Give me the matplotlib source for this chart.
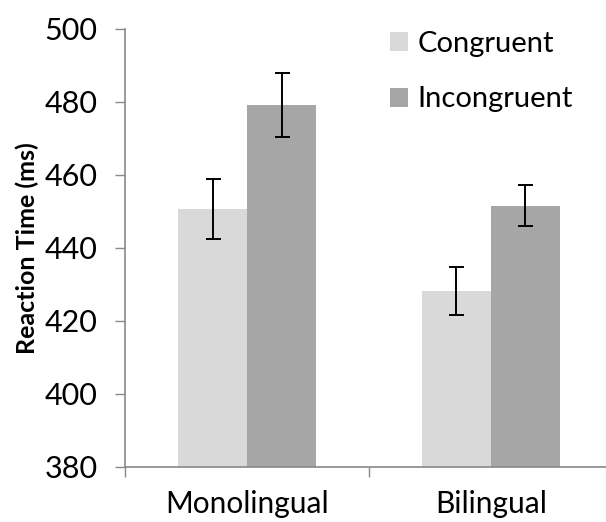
import matplotlib
matplotlib.use('Agg')
import matplotlib.pyplot as plt
import numpy as np

groups = ['Monolingual', 'Bilingual']
congruent = [450.6, 428.2]
congruent_err = [8.2, 6.6]
incongruent = [479.1, 451.6]
incongruent_err = [8.7, 5.6]
yticks = [380, 400, 420, 440, 460, 480, 500]

plt.rcParams['font.family'] = ['Lato', 'DejaVu Sans']

fig = plt.figure(figsize=(6.06, 5.22), dpi=100)
ax = fig.add_axes([125.3 / 606, 55.3 / 522, 487.4 / 606, 437.7 / 522])

x = np.arange(len(groups))
w = 0.283
ekw = dict(ecolor='black', elinewidth=1.4, capsize=5.4, capthick=1.4)
ax.bar(x - w / 2, congruent, w, yerr=congruent_err, color='#d9d9d9',
       label='Congruent', error_kw=ekw, zorder=2)
ax.bar(x + w / 2, incongruent, w, yerr=incongruent_err, color='#a6a6a6',
       label='Incongruent', error_kw=ekw, zorder=2)

ax.set_xlim(-0.5, 1.5)
ax.set_ylim(380, 500)
ax.set_yticks(yticks)
ax.tick_params(axis='y', labelsize=22, length=7, width=1, color='#898989',
               direction='out', pad=13)

ax.set_xticks(x)
ax.set_xticklabels(groups, fontsize=21.5)
ax.tick_params(axis='x', length=0, pad=17)
ax.set_xticks([-0.5, 0.5, 1.5], minor=True)
ax.tick_params(axis='x', which='minor', length=7, width=1, color='#898989')

for s in ['top', 'right']:
    ax.spines[s].set_visible(False)
for s in ['left', 'bottom']:
    ax.spines[s].set_color('#898989')
    ax.spines[s].set_linewidth(1.2)

ax.set_ylabel('Reaction Time (ms)', fontsize=18, fontweight='bold', labelpad=4)

ax.legend(loc='upper left', bbox_to_anchor=(0.49, 1.055), frameon=False,
          fontsize=21, handlelength=0.62, handleheight=0.62,
          handletextpad=0.3, labelspacing=1.0)

fig.savefig('out.png', dpi=100)
